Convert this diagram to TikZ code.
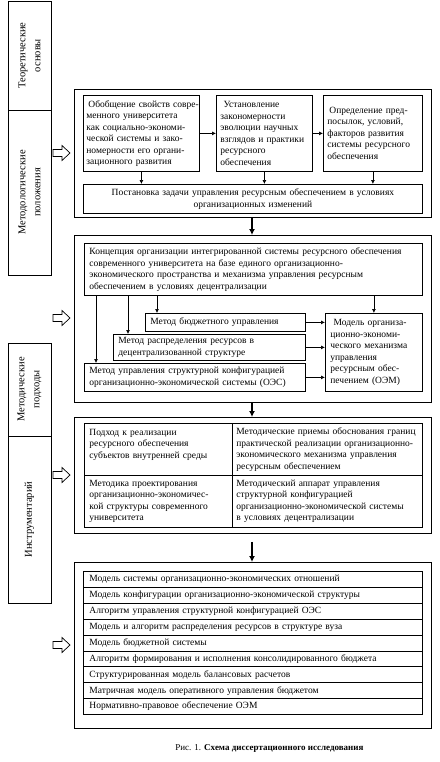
\documentclass[tikz,border=0pt]{standalone}
\usepackage{fontspec}
\setmainfont{Liberation Serif}
\usetikzlibrary{arrows.meta}
\newcommand\fsz{\fontsize{9.5}{11.5}\selectfont}
\newcommand\flz{\fontsize{10.5}{15}\selectfont}
\begin{document}
\begin{tikzpicture}[x=1pt,y=-1pt,line width=0.8pt,
  lb/.style={draw,rotate=90,align=center,font=\flz,inner sep=0pt},
  pn/.style n args={2}{draw,anchor=north west,minimum width=#1,minimum height=#2,inner sep=0pt},
  bx/.style n args={3}{draw,anchor=north west,inner xsep=5pt,inner ysep=0pt,minimum width=#1,minimum height=#2,text width=#3,align=left,font=\fsz},
  rw/.style={draw,anchor=north west,inner xsep=6pt,inner ysep=0pt,minimum width=339,minimum height=15.9,text width=327,align=left,font=\fsz},
  arr/.style={-{Latex[length=4pt,width=4pt]},line width=0.7pt},
  big/.style={-{Latex[length=6pt,width=6pt]},line width=2pt},
  harrow/.pic={\draw[line width=0.7pt] (0,-3.5) -- (9,-3.5) -- (9,-7.5) -- (17,0) -- (9,7.5) -- (9,3.5) -- (0,3.5) -- cycle;}
]
\useasboundingbox (0,0) rectangle (439,762);

% left column
\node[lb,minimum width=109,minimum height=43] (th) at (29.5,55.5) {Теоретические\\основы};
\node[lb,minimum width=165,minimum height=43] (me) at (29.5,192.5) {Методологические\\положения};
\node[lb,minimum width=93,minimum height=43] (mp) at (29.5,389.5) {Методические\\подходы};
\node[lb,minimum width=167,minimum height=43] (in) at (29.5,519.5) {Инструментарий};

% hollow arrows
\pic at (53,153) {harrow};
\pic at (53,318) {harrow};
\pic at (53,475) {harrow};
\pic at (53,645) {harrow};

% panels
\node[pn={357}{128}] (P1) at (74,89) {};
\node[pn={357}{167}] (P2) at (74,235) {};
\node[pn={357}{116}] (P3) at (74,417) {};
\node[pn={357}{166}] (P4) at (74,562) {};

% panel 1
\node[bx={116}{76}{110},inner xsep=3pt] (b1) at (83,95) {\mbox{\hspace{2pt}Обобщение свойств совре-}\\менного университета\\как социально-экономи-\\ческой системы и зако-\\номерности его органи-\\зационного развития};
\node[bx={96}{76}{88},inner xsep=4pt] (b2) at (216,95) {\ Установление\\закономерности\\эволюции научных\\\mbox{взглядов и практики}\\ресурсного\\обеспечения};
\node[bx={99}{76}{91},inner xsep=4pt] (b3) at (323,95) {\mbox{\hspace{2pt}Определение пред-}\\посылок, условий,\\факторов развития\\\mbox{системы ресурсного}\\обеспечения};
\node[bx={339}{29}{329},align=center] (b4) at (83,184) {Постановка задачи управления ресурсным обеспечением в условиях\\организационных изменений};
\draw[arr] (b1.east) -- (b2.west);
\draw[arr] (b2.east) -- (b3.west);
\draw[arr] (b1.south) -- (b1.south |- b4.north);
\draw[arr] (b2.south) -- (b2.south |- b4.north);
\draw[arr] (b3.south) -- (b3.south |- b4.north);

% panel 2
\node[bx={338}{52}{328}] (c1) at (84,243) {Концепция организации интегрированной системы ресурсного обеспечения\\современного университета на базе единого организационно-\\экономического пространства и механизма управления ресурсным\\обеспечением в условиях децентрализации};
\node[bx={160}{18}{150}] (m1) at (145,313) {Метод бюджетного управления};
\node[bx={192}{26}{182}] (m2) at (113,334) {Метод распределения ресурсов в\\децентрализованной структуре};
\node[bx={221}{28}{211}] (m3) at (84,363) {Метод управления структурной конфигурацией\\организационно-экономической системы (ОЭС)};
\node[bx={97}{78}{87}] (mo) at (325,313) {\ Модель организа-\\ционно-экономи-\\ческого механизма\\управления\\ресурсным обес-\\печением (ОЭМ)};
\coordinate (k1) at (157,0);
\coordinate (k2) at (128,0);
\coordinate (k3) at (96,0);
\draw[arr] (c1.south -| k1) -- (m1.north -| k1);
\draw[arr] (c1.south -| k2) -- (m2.north -| k2);
\draw[arr] (c1.south -| k3) -- (m3.north -| k3);
\draw[arr] (c1.south -| mo.north) -- (mo.north);
\draw[arr] (m1.east) -- (m1.east -| mo.west);
\draw[arr] (m2.east) -- (m2.east -| mo.west);
\draw[arr] (m3.east) -- (m3.east -| mo.west);

% panel 3
\node[bx={148}{52}{138},inner xsep=5pt] (t11) at (84,423) {Подход к реализации\\ресурсного обеспечения\\субъектов внутренней среды\\\mbox{}};
\node[bx={190}{52}{182},inner xsep=4pt] (t12) at (232,423) {\mbox{Методические приемы обоснования границ}\\\mbox{практической реализации организационно-}\\экономического механизма управления\\ресурсным обеспечением};
\node[bx={148}{52}{138},inner xsep=5pt] (t21) at (84,475) {Методика проектирования\\\mbox{организационно-экономичес-}\\кой структуры современного\\университета};
\node[bx={190}{52}{182},inner xsep=4pt] (t22) at (232,475) {Методический аппарат управления\\структурной конфигурацией\\\mbox{организационно-экономической системы}\\в условиях децентрализации};

% panel 4
\node[rw] (r1) at (83,571.0) {Модель системы организационно-экономических отношений};
\node[rw] (r2) at (83,586.9) {Модель конфигурации организационно-экономической структуры};
\node[rw] (r3) at (83,602.8) {Алгоритм управления структурной конфигурацией ОЭС};
\node[rw] (r4) at (83,618.7) {Модель и алгоритм распределения ресурсов в структуре вуза};
\node[rw] (r5) at (83,634.6) {Модель бюджетной системы};
\node[rw] (r6) at (83,650.5) {Алгоритм формирования и исполнения консолидированного бюджета};
\node[rw] (r7) at (83,666.4) {Структурированная модель балансовых расчетов};
\node[rw] (r8) at (83,682.3) {Матричная модель оперативного управления бюджетом};
\node[rw] (r9) at (83,698.2) {Нормативно-правовое обеспечение ОЭМ};

% big arrows
\coordinate (ax) at (252,0);
\draw[big] (P1.south -| ax) -- (P2.north -| ax);
\draw[big] (P2.south -| ax) -- (P3.north -| ax);
\draw[big,shorten <=8pt] (P3.south -| ax) -- (P4.north -| ax);

% caption
\node[anchor=west,font=\fontsize{9}{11}\selectfont,inner sep=0pt] (cap) at (175,748) {Рис. 1. \textbf{Схема диссертационного исследования}};
\end{tikzpicture}
\end{document}
